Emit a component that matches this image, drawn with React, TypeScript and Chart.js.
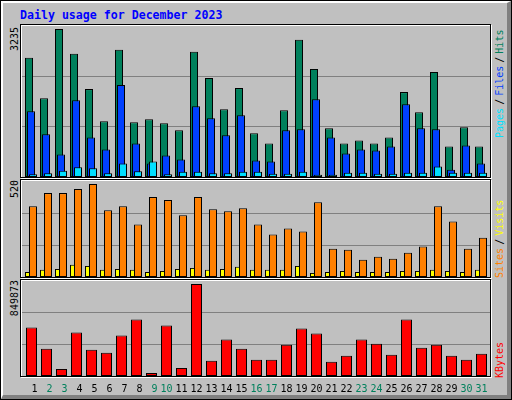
import React, { useEffect, useRef } from "react";
import { Chart, registerables } from "chart.js";

Chart.register(...registerables);

// ---------------- data ----------------
const TITLE = "Daily usage for December 2023";
const days = [1, 2, 3, 4, 5, 6, 7, 8, 9, 10, 11, 12, 13, 14, 15, 16, 17, 18, 19, 20, 21, 22, 23, 24, 25, 26, 27, 28, 29, 30, 31];
const weekendDays = [2, 3, 9, 10, 16, 17, 23, 24, 30, 31];

const hits = [2604, 1724, 3235, 2692, 1922, 1218, 2780, 1196, 1262, 1174, 1020, 2736, 2164, 1482, 1944, 954, 734, 1460, 3000, 2362, 1064, 734, 800, 734, 866, 1856, 1416, 2296, 668, 1086, 668];
const files = [1438, 932, 492, 1680, 866, 602, 2010, 734, 293, 470, 381, 1548, 1284, 910, 1350, 359, 337, 1020, 1042, 1702, 866, 514, 602, 580, 668, 1592, 1064, 1042, 161, 690, 293];
const pages = [59, 81, 139, 213, 191, 81, 293, 125, 337, 59, 117, 117, 81, 81, 117, 117, 73, 73, 117, 51, 51, 95, 95, 73, 73, 95, 95, 227, 95, 95, 95];
const visits = [28, 40, 45, 68, 62, 40, 45, 40, 28, 34, 45, 51, 40, 45, 57, 40, 40, 40, 62, 23, 28, 34, 28, 28, 28, 34, 34, 40, 34, 28, 40];
const sites = [396, 469, 469, 492, 520, 373, 396, 294, 447, 430, 345, 447, 379, 367, 384, 294, 237, 271, 254, 418, 158, 153, 96, 113, 102, 136, 170, 396, 311, 158, 220];
const kbytes = [448300, 252160, 65375, 401590, 242820, 214800, 373570, 523000, 28018, 466970, 74715, 849873, 140090, 336220, 252160, 149430, 149430, 289520, 438950, 392250, 130750, 186790, 336220, 298860, 196130, 523000, 261500, 289520, 186790, 149430, 205470];

// ---------------- styles ----------------
const COL = {
  hits: "#00805C",
  files: "#0040FF",
  pages: "#00E0FF",
  sites: "#FF8000",
  visits: "#FFFF00",
  kbytes: "#FF0000",
  grid: "#808080",
  bg: "#C0C0C0",
  dark: "#808080",
};

const INNER_LEFT = 22;
const INNER_W = 468;
const DAY_PX = 15;
const MONO = '"DejaVu Sans Mono", "Liberation Mono", monospace';

function dayAxis(day1Center: number, extra: any = {}) {
  const min = 1 - (day1Center - INNER_LEFT) / DAY_PX;
  return {
    type: "linear",
    axis: "x",
    display: false,
    offset: false,
    min,
    max: min + INNER_W / DAY_PX,
    grid: { display: false, offset: false },
    ...extra,
  };
}

function valueAxis(values: number[], heightPx: number) {
  const max = (Math.max(...values) * heightPx) / (heightPx - 3);
  return {
    type: "linear",
    axis: "y",
    display: true,
    min: 0,
    max,
    border: { display: false },
    grid: { color: COL.grid, lineWidth: 1, drawTicks: false },
    ticks: { display: false },
    afterBuildTicks: (s: any) => {
      s.ticks = [{ value: max / 3 }, { value: (2 * max) / 3 }];
    },
    afterFit: (s: any) => {
      s.width = 0;
    },
  };
}

function barSet(values: number[], color: string, xAxisID: string, thickness: number, order: number) {
  return {
    type: "bar",
    data: values.map((v, i) => ({ x: days[i], y: v })),
    backgroundColor: color,
    borderColor: "#000000",
    borderWidth: 1,
    borderSkipped: false,
    inflateAmount: 0,
    barThickness: thickness,
    grouped: false,
    xAxisID,
    yAxisID: "y",
    order,
  };
}

function baseOptions(scales: any) {
  return {
    responsive: false,
    maintainAspectRatio: false,
    animation: false,
    devicePixelRatio: 1,
    events: [],
    layout: { padding: 0 },
    plugins: {
      legend: { display: false },
      tooltip: { enabled: false },
      title: { display: false },
    },
    scales,
  };
}

const panel1Config = () => ({
  type: "bar",
  data: {
    datasets: [
      barSet(hits, COL.hits, "xh", 8, 3),
      barSet(files, COL.files, "xf", 8, 2),
      barSet(pages, COL.pages, "xp", 8, 1),
    ],
  },
  options: baseOptions({
    xh: dayAxis(29),
    xf: dayAxis(31),
    xp: dayAxis(33),
    y: valueAxis(hits, 151),
  }),
});

const panel2Config = () => ({
  type: "bar",
  data: {
    datasets: [
      barSet(visits, COL.visits, "xv", 5, 2),
      barSet(sites, COL.sites, "xs", 8, 1),
    ],
  },
  options: baseOptions({
    xv: dayAxis(27.5),
    xs: dayAxis(33),
    y: valueAxis(sites, 96),
  }),
});

const panel3Config = () => ({
  type: "bar",
  data: {
    datasets: [barSet(kbytes, COL.kbytes, "xk", 11, 1)],
  },
  options: baseOptions({
    xk: dayAxis(31.5, {
      display: true,
      position: "bottom",
      border: { display: false },
      grid: { display: false, drawTicks: false, offset: false },
      ticks: {
        autoSkip: false,
        maxRotation: 0,
        minRotation: 0,
        padding: 7,
        font: { family: MONO, size: 10 },
        color: (ctx: any) => (ctx.tick && weekendDays.includes(ctx.tick.value) ? COL.hits : "#000000"),
        callback: (v: any) => String(v).padStart(2, " "),
      },
      afterBuildTicks: (s: any) => {
        s.ticks = days.map((d) => ({ value: d }));
      },
      afterFit: (s: any) => {
        s.height = 24;
        s.paddingLeft = 0;
        s.paddingRight = 0;
      },
    }),
    y: valueAxis(kbytes, 95),
  }),
});

function PanelChart({ top, height, config }: { top: number; height: number; config: () => any }) {
  const ref = useRef<HTMLCanvasElement | null>(null);
  useEffect(() => {
    if (!ref.current) return;
    const chart = new Chart(ref.current, config());
    return () => chart.destroy();
  }, []);
  return (
    <canvas
      ref={ref}
      width={INNER_W}
      height={height}
      style={{ position: "absolute", left: INNER_LEFT, top, width: INNER_W, height, display: "block" }}
    />
  );
}

function PanelFrame({ top, height }: { top: number; height: number }) {
  return (
    <>
      <div
        style={{
          position: "absolute",
          left: 21,
          top: top + 1,
          width: 471,
          height,
          boxSizing: "border-box",
          border: "1px solid #FFFFFF",
        }}
      />
      <div
        style={{
          position: "absolute",
          left: 20,
          top,
          width: 471,
          height,
          boxSizing: "border-box",
          border: "1px solid #000000",
        }}
      />
    </>
  );
}

type Part = { text: string; color: string };

function SideLabel({ parts, left, bottom }: { parts: Part[]; left: number; bottom: number }) {
  return (
    <div
      style={{
        position: "absolute",
        left,
        top: bottom,
        transformOrigin: "0 0",
        transform: "rotate(-90deg)",
        whiteSpace: "pre",
        fontFamily: MONO,
        fontSize: 10,
        lineHeight: "10px",
        wordSpacing: "-3px",
      }}
    >
      {parts.map((p, i) => (
        <span key={i} style={{ color: p.color }}>
          {p.text}
        </span>
      ))}
    </div>
  );
}

function MaxLabel({ text, left, top }: { text: string; left: number; top: number }) {
  return (
    <div
      style={{
        position: "absolute",
        left,
        top,
        transformOrigin: "0 0",
        transform: "rotate(-90deg) translateX(-100%)",
        whiteSpace: "pre",
        fontFamily: MONO,
        fontSize: 10,
        lineHeight: "10px",
        color: "#000000",
      }}
    >
      {text}
    </div>
  );
}

export default function App() {
  return (
    <div
      style={{
        position: "fixed",
        left: 0,
        top: 0,
        width: 512,
        height: 400,
        background: COL.bg,
        overflow: "hidden",
      }}
    >
      {/* outer bevel frame */}
      <div
        style={{
          position: "absolute",
          left: 0,
          top: 0,
          width: 512,
          height: 400,
          boxSizing: "border-box",
          border: "1px solid #000000",
        }}
      >
        <div
          style={{
            position: "absolute",
            left: 0,
            top: 0,
            width: 510,
            height: 398,
            boxSizing: "border-box",
            borderTop: "2px solid #FFFFFF",
            borderLeft: "2px solid #FFFFFF",
            borderRight: `4px solid ${COL.dark}`,
            borderBottom: `4px solid ${COL.dark}`,
          }}
        />
      </div>

      <div
        style={{
          position: "absolute",
          left: 20,
          top: 9,
          fontFamily: MONO,
          fontWeight: "bold",
          fontSize: 11.6,
          lineHeight: "13px",
          color: "#0000FF",
          whiteSpace: "pre",
        }}
      >
        {TITLE}
      </div>

      <PanelFrame top={24} height={154} />
      <PanelFrame top={179} height={99} />
      <PanelFrame top={279} height={98} />

      <PanelChart top={26} height={151} config={panel1Config} />
      <PanelChart top={181} height={96} config={panel2Config} />
      <PanelChart top={281} height={119} config={panel3Config} />

      <MaxLabel text={String(Math.max(...hits))} left={10} top={27} />
      <MaxLabel text={String(Math.max(...sites))} left={10} top={180} />
      <MaxLabel text={String(Math.max(...kbytes))} left={10} top={280} />

      <SideLabel
        left={495}
        bottom={138}
        parts={[
          { text: "Pages", color: COL.pages },
          { text: " / ", color: "#000000" },
          { text: "Files", color: COL.files },
          { text: " / ", color: "#000000" },
          { text: "Hits", color: COL.hits },
        ]}
      />
      <SideLabel
        left={495}
        bottom={278}
        parts={[
          { text: "Sites", color: COL.sites },
          { text: " / ", color: "#000000" },
          { text: "Visits", color: COL.visits },
        ]}
      />
      <SideLabel left={495} bottom={378} parts={[{ text: "KBytes", color: COL.kbytes }]} />
    </div>
  );
}
